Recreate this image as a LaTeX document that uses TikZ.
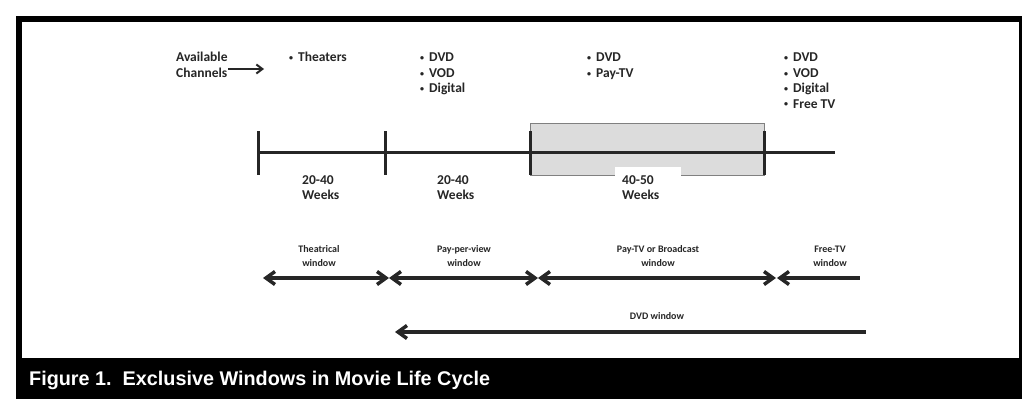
\documentclass[tikz,border=0pt]{standalone}
\usepackage{fontspec}
\setmainfont{Carlito}
\newfontfamily\capfont{Liberation Sans}
\usetikzlibrary{arrows.meta,positioning,calc}
\definecolor{ink}{RGB}{38,38,38}
\definecolor{boxgray}{RGB}{220,220,220}
\newcommand{\chb}{{\fontsize{8}{8}\selectfont\raisebox{0.35ex}{\textbullet}}\hspace{5pt}}

\begin{document}
\begin{tikzpicture}[x=1pt,y=-1pt,
  chan/.style={font=\bfseries\fontsize{13.5}{15.4}\selectfont,text=ink,inner sep=0pt,anchor=base west,align=left},
  weeks/.style={font=\bfseries\fontsize{13.5}{15}\selectfont,text=ink,inner sep=0pt,anchor=base west,align=left},
  win/.style={font=\bfseries\fontsize{10}{14}\selectfont,text=ink,inner sep=0pt,anchor=base,align=center},
  span/.style={draw=ink,line width=3.5pt,{Straight Barb[length=9pt,width=13pt]}-{Straight Barb[length=9pt,width=13pt]}},
  tick/.style={draw=ink,line width=3pt}]
\useasboundingbox (0,0) rectangle (1032,409);
\fill[white] (0,0) rectangle (1032,409);
% frame and caption bar
\fill[black] (16,16) rectangle (1022,399);
\fill[white] (22,22) rectangle (1019,358);
\node[font=\capfont\bfseries\fontsize{19.8}{24}\selectfont,text=white,inner sep=0pt,anchor=base west] (caption) at (29,385) {Figure 1.\ \ Exclusive Windows in Movie Life Cycle};
% channels (base = last line)
\node[chan] (avail) at (176,77.4) {Available\\Channels};
\coordinate (availarr) at (264,69);
\draw[ink,line width=2pt,-{Straight Barb[length=6pt,width=9pt]}] (228,69) -- (availarr);
\node[chan] (theaters) at (289,62) {\chb Theaters};
\node[chan] (chanB) at (420,92.8) {\chb DVD\\\chb VOD\\\chb Digital};
\node[chan] (chanC) at (587,77.4) {\chb DVD\\\chb Pay-TV};
\node[chan] (chanD) at (784,108.2) {\chb DVD\\\chb VOD\\\chb Digital\\\chb Free TV};
% timeline
\coordinate (t0) at (258,152);
\coordinate (t1) at (385,152);
\coordinate (t2) at (530,152);
\coordinate (t3) at (764,152);
\coordinate (tend) at (835,152);
\filldraw[fill=boxgray,draw=gray,line width=0.8pt] (530,123) rectangle (764,175);
\fill[white] (615,167) rectangle (681,176);
\draw[ink,line width=3pt] (t0) -- (tend);
\foreach \t in {t0,t1,t2,t3}
  \draw[tick] ($(\t)+(0,-21)$) -- ($(\t)+(0,23)$);
\node[weeks] (wkA) at (302,199) {20-40\\Weeks};
\node[weeks] (wkB) at (437,199) {20-40\\Weeks};
\node[weeks] (wkC) at (622,199) {40-50\\Weeks};
% windows
\coordinate (w0) at (263,278);
\coordinate (w1) at (389,278);
\coordinate (w2) at (538,278);
\coordinate (w3) at (776,278);
\coordinate (w4) at (860,278);
\draw[span] (w0) -- (w1);
\draw[span] (w1) -- (w2);
\draw[span] (w2) -- (w3);
\draw[draw=ink,line width=3.5pt,{Straight Barb[length=9pt,width=13pt]}-] ($(w3)+(1,0)$) -- (w4);
\node[win] (theatrical) at (319,266) {Theatrical\\window};
\node[win] (ppv) at (464,266) {Pay-per-view\\window};
\node[win] (paytv) at (658,266) {Pay-TV or Broadcast\\window};
\node[win] (freetv) at (830,266) {Free-TV\\window};
\coordinate (dvdL) at (395,332);
\coordinate (dvdR) at (866,332);
\draw[draw=ink,line width=3.5pt,{Straight Barb[length=9pt,width=13pt]}-] (dvdL) -- (dvdR);
\node[win] (dvdwin) at (657,319) {DVD window};
\end{tikzpicture}
\end{document}
